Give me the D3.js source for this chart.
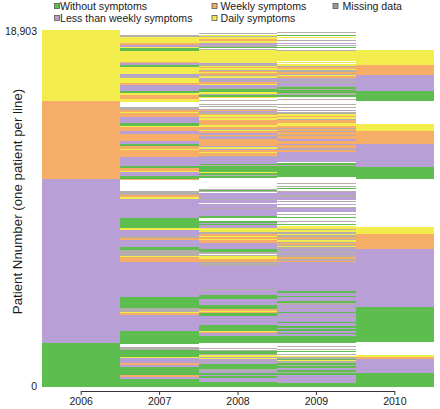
<!DOCTYPE html>
<html><head><meta charset="utf-8">
<script src="https://cdn.jsdelivr.net/npm/d3@7"></script>
<style>body{margin:0;background:#fff}svg{display:block}text{font-family:"Liberation Sans",Arial,sans-serif;fill:#1a1a1a}</style>
</head><body>
<script>
// ---------- DATA ----------
const years = ["2006","2007","2008","2009","2010"];
const totalPatients = 18903;
const yTickLabels = ["0","18,903"];
const categories = [
  {key:"W", label:"Without symptoms"},
  {key:"L", label:"Less than weekly symptoms"},
  {key:"K", label:"Weekly symptoms"},
  {key:"D", label:"Daily symptoms"},
  {key:"M", label:"Missing data"}
];
// runs of patients, from patient 18,903 downwards: [status, number of patients]; "N" = no record
const col2006 = [["D",3812],["K",4130],["L",8684],["W",2277]];
const col2007 = [
 ["N",265],["M",106],["D",318],["K",106],["L",106],["D",80],["W",133],["D",583],["K",80],["L",106],["W",80],["D",371],["L",106],["M",106],["D",265],["K",106],["L",318],["W",106],["D",106],["K",212],["D",159],
 ["N",292],["M",133],["K",106],["D",80],["K",212],["L",292],["W",159],["D",80],["K",212],["L",133],["K",371],["L",159],["W",106],["K",159],["D",80],["K",345],["L",477],["W",106],["K",159],["D",53],["L",239],["W",133],["K",53],
 ["N",610],["M",186],["K",106],["D",106],["L",1034],["W",530],["D",80],["L",345],["M",80],["K",133],["L",371],["W",133],["M",318],["D",80],["K",265],["L",1855],["W",557],["M",186],["D",53],["K",106],["L",875],["W",689],
 ["N",159],["M",159],["W",345],["D",80],["L",239],["K",106],["L",106],["W",424],["K",106],["L",133],["W",424]
];
const col2008 = [
 ["N",159],["M",53],["N",53],["D",53],["M",80],["D",80],["K",106],["D",133],["L",80],["M",106],["W",53],["N",53],["M",53],["D",689],["L",80],["M",80],["D",80],["K",53],["D",80],["M",53],["K",80],["D",53],["K",106],["M",53],["D",106],["L",80],["M",53],["L",80],["K",106],["D",53],["L",159],["M",53],["W",159],["D",80],["M",80],["W",106],["D",53],["N",80],["M",53],["N",53],
 ["N",106],["M",53],["N",80],["M",53],["N",80],["M",80],["K",53],["L",53],["M",80],["K",53],["D",106],["K",80],["D",106],["K",265],["D",80],["K",106],["M",53],["D",80],["K",106],["L",80],["K",80],["M",53],["L",80],["K",371],["L",80],["D",80],["L",53],["K",106],["D",80],["K",159],["M",53],["L",371],["W",53],["M",53],["W",318],["D",53],["W",80],["M",53],["W",106],["N",106],
 ["N",477],["M",53],["W",53],["M",80],["N",53],["L",318],["M",53],["L",159],["N",53],["L",212],["M",53],["L",345],["W",133],["N",159],["W",80],["L",53],["W",80],["L",133],["D",212],["M",80],["K",106],["D",80],["K",80],["D",53],["K",159],["L",345],["W",133],["M",106],["N",53],["M",80],["D",159],["K",133],["M",212],["L",1246],["M",53],["L",265],["W",212],["L",292],["W",239],["K",80],["D",80],["K",53],["W",133],["L",477],["W",318],["D",53],["K",80],["L",159],["W",345],["N",80],
 ["N",186],["M",53],["N",53],["M",53],["W",186],["M",53],["D",80],["M",53],["D",80],["L",106],["M",53],["L",106],["W",265],["M",80],["L",133],["W",106],["L",53],["W",80],["L",239],["W",265]
];
const col2009 = [
 ["N",106],["M",53],["N",106],["W",53],["N",80],["D",53],["N",80],["M",53],["N",106],["L",53],["N",80],["M",53],["N",53],["W",53],["N",80],["M",53],["D",530],["N",80],["D",53],["N",53],["D",80],["M",80],["K",80],["D",80],["M",80],["K",106],["M",53],["D",80],["K",80],["M",80],["L",106],["M",80],["L",159],["M",80],["W",106],["M",53],["W",159],["M",80],["W",133],["N",80],["M",53],["N",106],
 ["N",106],["M",53],["N",106],["M",53],["N",106],["L",80],["N",53],["M",80],["D",106],["K",80],["D",106],["M",53],["K",159],["D",133],["K",106],["M",80],["K",106],["M",53],["K",133],["M",80],["K",159],["L",80],["K",159],["L",80],["K",133],["M",53],["L",80],["K",106],["L",530],["N",53],["W",80],["M",80],["W",583],["N",133],
 ["N",159],["M",53],["N",106],["M",53],["N",80],["W",53],["N",80],["M",80],["L",159],["M",80],["L",133],["N",80],["M",53],["N",106],["L",53],["N",106],["M",53],["L",212],["N",106],["M",53],["N",106],["W",53],["N",133],["M",80],["N",80],["W",53],["N",53],["D",186],["M",53],["D",106],["M",80],["D",80],["M",106],["K",80],["M",80],["D",80],["M",80],["K",80],["M",80],["D",53],["M",106],["L",106],["M",80],["L",106],["M",133],["K",106],["M",80],["K",80],["L",1511],["W",133],["L",159],["W",53],["L",212],["W",106],["M",106],["L",159],["M",53],["L",159],["W",53],["L",186],["M",53],["L",212],["W",53],["L",159],["W",133],["L",53],["W",106],["L",80],["W",80],["L",80],["W",371],["N",80],
 ["N",106],["M",53],["N",80],["M",53],["N",80],["W",53],["N",80],["M",53],["N",53],["D",80],["M",80],["W",80],["D",53],["M",80],["W",106],["M",53],["W",133],["L",80],["W",106],["M",53],["W",106],["L",398],["W",265]
];
const col2010 = [
 ["N",1060],["D",795],["K",530],["L",875],["W",504],["N",53],
 ["N",1166],["D",398],["K",663],["L",1246],["W",636],["N",27],
 ["N",2491],["D",398],["K",795],["L",3048],["W",1882],["N",80],
 ["N",583],["D",106],["K",106],["L",742],["W",742]
];
const columns = [col2006,col2007,col2008,col2009,col2010];

// ---------- STYLE ----------
const colors = {W:"#5dbe4f", L:"#b8a0d6", K:"#f6ad67", D:"#f3ec4d", M:"#b4afaa"};
const legendColors = {W:"#5dbe4f", L:"#b8a0d6", K:"#f6ad67", D:"#f3ec4d", M:"#9c9a98"};
const W = 440, H = 409;
const svg = d3.select("body").append("svg").attr("width",W).attr("height",H);

const x = d3.scaleBand().domain(years).range([42,434]).padding(0);
const y = d3.scaleLinear().domain([0,totalPatients]).range([386.5,29.5]);

// cells: one rect per run of patients
const cells = [];
columns.forEach((col,i)=>{
  let top = totalPatients;
  col.forEach(([k,n])=>{
    const bottom = Math.max(0, top - n);
    if (k !== "N") cells.push({year:years[i], k, top, bottom});
    top = bottom;
  });
});
svg.append("g").attr("shape-rendering","crispEdges")
  .selectAll("rect").data(cells).join("rect")
  .attr("x", d=>x(d.year))
  .attr("width", x.bandwidth())
  .attr("y", d=>y(d.top))
  .attr("height", d=>Math.max(0.6, y(d.bottom)-y(d.top)))
  .attr("fill", d=>colors[d.k]);

// x axis
const xAxis = d3.axisBottom(x).tickSize(4).tickSizeOuter(0).tickPadding(3);
const gx = svg.append("g").attr("transform","translate(0,391)").call(xAxis);
gx.select(".domain").attr("d", `M${x("2006")+x.bandwidth()/2},0.5H${x("2010")+x.bandwidth()/2}`).attr("stroke","#333");
gx.selectAll(".tick line").attr("stroke","#333");
gx.selectAll(".tick text").style("font-family","'Liberation Sans',Arial,sans-serif").style("font-size","10.5px").attr("fill","#1a1a1a");

// y labels
const yVals = [0,totalPatients];
svg.append("g").selectAll("text").data(yVals).join("text")
  .attr("x",37).attr("y",d=>y(d)+ (d===0?0:1.5)).attr("dy","0.35em")
  .attr("text-anchor","end").style("font-size","10.5px")
  .text((d,i)=>yTickLabels[i]);

// y title
svg.append("text")
  .attr("transform","translate(17.5,201.5) rotate(-90)")
  .attr("text-anchor","middle").attr("dy","0.35em")
  .style("font-size","13.3px")
  .text("Patient Nnumber (one patient per line)");

// legend
const legendPos = {W:[54.5,6,60],L:[54.5,18,60],K:[212,6,220.5],D:[212,18,220.5],M:[333,6,342.5]};
const lg = svg.append("g");
categories.forEach(c=>{
  const [sx,cy,tx] = legendPos[c.key];
  lg.append("rect").attr("x",sx).attr("y",cy-2.5).attr("width",5).attr("height",5)
    .attr("fill",legendColors[c.key]).attr("stroke","#555").attr("stroke-width",0.8);
  lg.append("text").attr("x",tx).attr("y",cy).attr("dy","0.35em").style("font-size","10.6px").text(c.label);
});
</script>
</body></html>
